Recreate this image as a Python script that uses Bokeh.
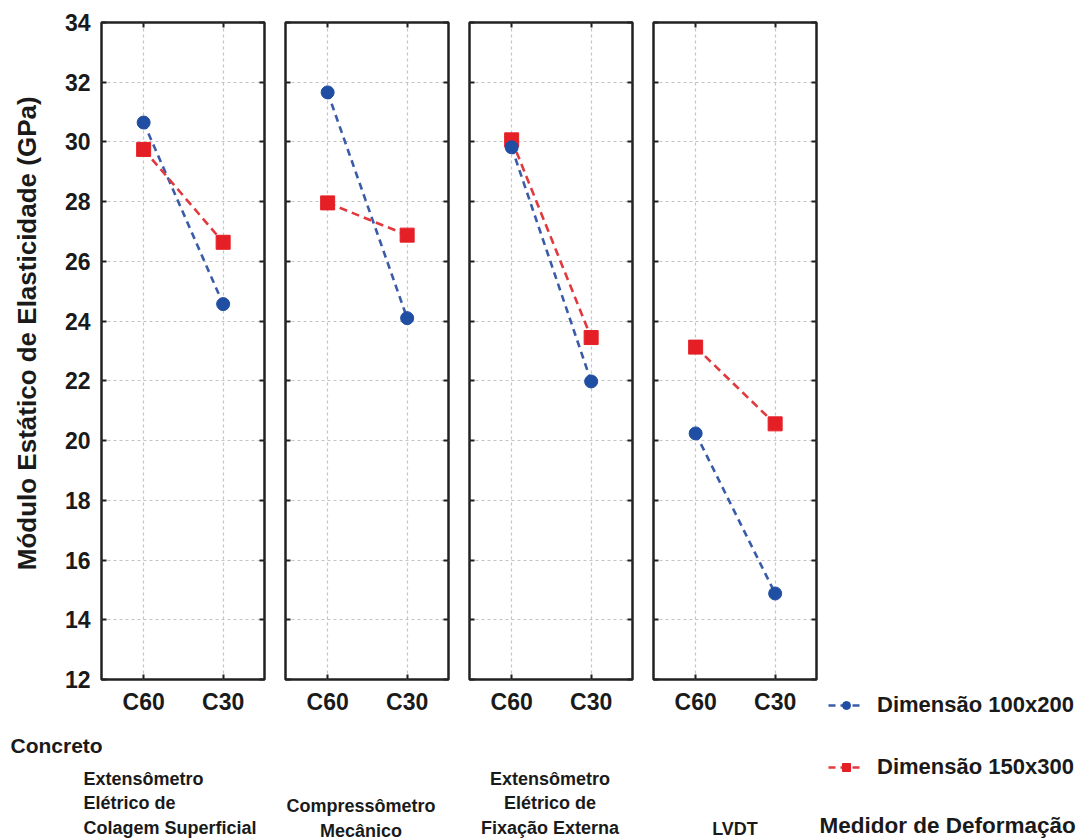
import math
from bokeh.plotting import figure
from bokeh.models import (Range1d, FixedTicker, LinearAxis, Legend,
                          LegendItem, CustomJSTickFormatter)
from bokeh.core.properties import value
from bokeh.layouts import row, column
from bokeh.embed import file_html
from bokeh.resources import INLINE

# ---------------- data ----------------
categories = ["C60", "C30"]
gauges = [
    ["Extensômetro", "Elétrico de", "Colagem Superficial"],
    ["Compressômetro", "Mecânico"],
    ["Extensômetro", "Elétrico de", "Fixação Externa"],
    ["LVDT"],
]
series_names = ["Dimensão 100x200", "Dimensão 150x300"]
dim_100x200 = [[30.65, 24.57], [31.66, 24.10], [29.82, 21.98], [20.24, 14.88]]
dim_150x300 = [[29.75, 26.64], [27.96, 26.88], [30.07, 23.45], [23.13, 20.56]]
y_ticks = [12, 14, 16, 18, 20, 22, 24, 26, 28, 30, 32, 34]
y_title = "Módulo Estático de Elasticidade (GPa)"
x_title = "Concreto"
group_title = "Medidor de Deformação"

# ---------------- layout / style ----------------
FONT = "Liberation Sans"
TXT = "#1a1a1a"
BLUE = "#1f4ea3"
BLUE_LINE = "#3a5ca8"
RED = "#e51f26"
RED_LINE = "#e03a3f"
GRID = "#c4c4c4"
BASE_FIX = -7        # text glyph baseline correction (px)

YMIN, YMAX = 12, 34
XMIN, XMAX = -0.53, 1.52
FRAME_W, FRAME_H = 163, 657
TOP_H = 725          # height of the panel figures
TOTAL_H = 839
B_TOP = 22
B_BOTTOM = TOP_H - B_TOP - FRAME_H
YLAB_W = 50
borders = [(101 - YLAB_W, 10), (11, 10), (11, 10), (11, 2)]
LEFT_W = YLAB_W + sum(l + FRAME_W + r for l, r in borders)
RIGHT_W = 1090 - LEFT_W


def style_axis(ax, labelled, size="23px", standoff=10):
    ax.axis_line_color = None
    ax.major_tick_in = 5
    ax.major_tick_out = 0
    ax.major_tick_line_width = 2
    ax.major_tick_line_color = "#222222"
    ax.minor_tick_line_color = None
    if labelled:
        ax.major_label_text_font = FONT
        ax.major_label_text_font_style = "bold"
        ax.major_label_text_font_size = size
        ax.major_label_text_color = TXT
        ax.major_label_standoff = standoff
    else:
        ax.formatter = CustomJSTickFormatter(code="return ''")
        ax.major_label_text_font_size = "0px"
        ax.major_label_standoff = 0


def blank_fig(w, h, xr, yr):
    p = figure(width=w, height=h, x_range=Range1d(*xr), y_range=Range1d(*yr),
               output_backend="svg", toolbar_location=None,
               x_axis_location=None, y_axis_location=None,
               min_border=0, min_border_left=0, min_border_right=0,
               min_border_top=0, min_border_bottom=0)
    p.outline_line_color = None
    p.xgrid.visible = False
    p.ygrid.visible = False
    p.background_fill_color = "white"
    p.border_fill_color = "white"
    return p


def put_text(p, xs_, ys_, texts, size, align="left", angle=0.0, baseline="alphabetic"):
    fix = BASE_FIX if baseline == "alphabetic" else 0
    p.text(x=xs_, y=[y + fix for y in ys_], text=texts, text_font=value(FONT),
           text_font_style="bold", text_font_size=f"{size}px", text_color=TXT,
           text_align=align, text_baseline=baseline, angle=angle)


# ---- y axis title (separate narrow strip, page coordinates) ----
ylab = blank_fig(YLAB_W, TOP_H, (0, YLAB_W), (TOP_H, 0))
put_text(ylab, [26], [343], [y_title], 26, "center", math.pi / 2, "middle")

xs = list(range(len(categories)))
figs = [ylab]
frame_centers = []
acc = YLAB_W
for i, (l, r) in enumerate(borders):
    frame_centers.append(acc + l + FRAME_W / 2)
    acc += l + FRAME_W + r
    p = figure(width=l + FRAME_W + r, height=TOP_H,
               x_range=Range1d(XMIN, XMAX), y_range=Range1d(YMIN, YMAX),
               output_backend="svg", toolbar_location=None,
               min_border_left=l, min_border_right=r,
               min_border_top=B_TOP, min_border_bottom=B_BOTTOM)
    p.outline_line_color = "#222222"
    p.outline_line_width = 2.5
    p.background_fill_color = "white"
    p.border_fill_color = "white"

    p.xaxis.ticker = FixedTicker(ticks=xs)
    p.yaxis.ticker = FixedTicker(ticks=y_ticks)
    p.xaxis.major_label_overrides = {k: c for k, c in zip(xs, categories)}
    style_axis(p.xaxis[0], True, "23px", 9)
    style_axis(p.yaxis[0], i == 0, "23px", 11)

    top = LinearAxis(ticker=FixedTicker(ticks=xs))
    right = LinearAxis(ticker=FixedTicker(ticks=y_ticks))
    style_axis(top, False)
    style_axis(right, False)
    p.add_layout(top, "above")
    p.add_layout(right, "right")

    p.xgrid.ticker = FixedTicker(ticks=xs)
    p.ygrid.ticker = FixedTicker(ticks=y_ticks)
    for g in (p.xgrid[0], p.ygrid[0]):
        g.grid_line_color = GRID
        g.grid_line_dash = "3 3"
        g.grid_line_width = 1.2

    p.line(xs, dim_100x200[i], line_color=BLUE_LINE, line_width=2.6, line_dash="7 5")
    p.line(xs, dim_150x300[i], line_color=RED_LINE, line_width=2.6, line_dash="8 5")
    p.scatter(xs, dim_150x300[i], marker="square", size=14, color=RED)
    p.scatter(xs, dim_100x200[i], marker="circle", size=13, color=BLUE)
    figs.append(p)

# ---- texts under the panels (page pixel coordinates, y downwards) ----
bottom = blank_fig(LEFT_W, TOTAL_H - TOP_H, (0, LEFT_W), (TOTAL_H, TOP_H))
put_text(bottom, [10], [752], [x_title], 21, "left")
put_text(bottom, [83, 83, 83], [785, 809, 834], gauges[0], 18, "left")
put_text(bottom, [frame_centers[1] - 6] * 2, [812, 837], gauges[1], 18, "center")
put_text(bottom, [frame_centers[2] - 1] * 3, [785, 809, 834], gauges[2], 18, "center")
put_text(bottom, [frame_centers[3]], [835], gauges[3], 18, "center")

# ---- legend + group title on the right ----
right_fig = blank_fig(RIGHT_W, TOTAL_H, (LEFT_W, LEFT_W + RIGHT_W), (TOTAL_H, 0))
# legend proxies: the series drawn in this strip fall outside its visible range
lb = right_fig.line(xs, dim_100x200[0], line_color=BLUE_LINE, line_width=2.6, line_dash="7 5")
cb = right_fig.scatter(xs, dim_100x200[0], marker="circle", size=10, color=BLUE)
lr = right_fig.line(xs, dim_150x300[0], line_color=RED_LINE, line_width=2.6, line_dash="7 5")
sr = right_fig.scatter(xs, dim_150x300[0], marker="square", size=10, color=RED)
legend = Legend(items=[
    LegendItem(label=series_names[0], renderers=[lb, cb]),
    LegendItem(label=series_names[1], renderers=[lr, sr]),
], location=(10, TOTAL_H - 780))
legend.glyph_width = 36
legend.glyph_height = 20
legend.label_height = 20
legend.spacing = 36
legend.padding = 0
legend.margin = 0
legend.label_standoff = 13
legend.border_line_color = None
legend.background_fill_alpha = 0
legend.label_text_font = FONT
legend.label_text_font_style = "bold"
legend.label_text_font_size = "22px"
legend.label_text_color = TXT
right_fig.add_layout(legend)
put_text(right_fig, [LEFT_W + 1], [832], [group_title], 22.5, "left")

layout = row(column(row(*figs), bottom), right_fig)
open("out.html", "w").write(file_html(layout, INLINE))
